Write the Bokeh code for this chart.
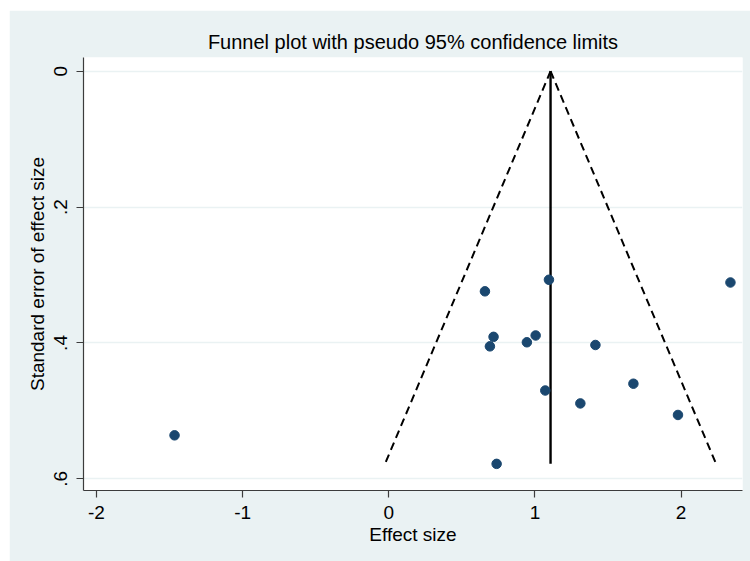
from bokeh.plotting import figure
from bokeh.models import Range1d, FixedTicker, ColumnDataSource
from bokeh.embed import file_html
from bokeh.resources import INLINE

# Study data (effect size, standard error)
effect = [0.658, 1.096, 2.338, 0.717, 0.692, 0.945, 1.005, 1.414, 1.071, 1.674, 1.311, 1.979, 0.738, -1.466]
se = [0.324, 0.307, 0.311, 0.391, 0.405, 0.399, 0.389, 0.403, 0.470, 0.460, 0.489, 0.506, 0.578, 0.536]

pooled = 1.107
se_max = 0.578
z = 1.96

x_ticks = [-2, -1, 0, 1, 2]
x_tick_labels = {-2: "-2", -1: "-1", 0: "0", 1: "1", 2: "2"}
y_ticks = [0, 0.2, 0.4, 0.6]
y_tick_labels = {0: "0", 0.2: ".2", 0.4: ".4", 0.6: ".6"}

BG = "#EAF2F3"
NAVY = "#1A476F"
FONT = "Liberation Sans"

p = figure(width=741, height=551, output_backend="svg", toolbar_location=None,
           x_range=Range1d(-2.089, 2.4205), y_range=Range1d(0.6172, -0.0202),
           min_border_left=74, min_border_right=8, min_border_top=47, min_border_bottom=71)
p.margin = (10, 0, 0, 9)
p.background_fill_color = "white"
p.border_fill_color = BG
p.outline_line_color = None

p.title.text = "Funnel plot with pseudo 95% confidence limits"
p.title.align = "center"
p.title.text_font = FONT
p.title.text_font_size = "20px"
p.title.text_font_style = "normal"
p.title.text_color = "#000000"
p.title.offset = 0

# funnel lines
left_x = [pooled, pooled - z * se_max]
right_x = [pooled, pooled + z * se_max]
p.line(left_x, [0, se_max], line_color="black", line_width=2, line_dash="8 5")
p.line(right_x, [0, se_max], line_color="black", line_width=2, line_dash="8 5")
p.line([pooled, pooled], [0, se_max], line_color="black", line_width=2.4)

src = ColumnDataSource(dict(x=effect, y=se))
p.scatter("x", "y", source=src, size=9.5, fill_color=NAVY, line_color=NAVY)

p.xgrid.visible = False
p.ygrid.ticker = FixedTicker(ticks=y_ticks)
p.ygrid.grid_line_color = BG
p.ygrid.grid_line_width = 1.5

p.xaxis.ticker = FixedTicker(ticks=x_ticks)
p.xaxis.major_label_overrides = x_tick_labels
p.yaxis.ticker = FixedTicker(ticks=y_ticks)
p.yaxis.major_label_overrides = y_tick_labels
p.yaxis.major_label_orientation = "vertical"
p.xaxis.axis_label = "Effect size"
p.yaxis.axis_label = "Standard error of effect size"

for ax in (p.xaxis[0], p.yaxis[0]):
    ax.axis_line_color = "#3C3C3C"
    ax.axis_line_width = 1.2
    ax.major_tick_line_color = "#3C3C3C"
    ax.major_tick_line_width = 1.2
    ax.major_tick_in = 0
    ax.major_tick_out = 7
    ax.minor_tick_line_color = None
    ax.major_label_text_font = FONT
    ax.major_label_text_font_size = "19px"
    ax.major_label_text_color = "#000000"
    ax.axis_label_text_font = FONT
    ax.axis_label_text_font_size = "19px"
    ax.axis_label_text_font_style = "normal"
    ax.axis_label_text_color = "#000000"

p.xaxis.major_label_standoff = 8
p.xaxis.axis_label_standoff = 2
p.yaxis.major_label_standoff = 9
p.yaxis.axis_label_standoff = 4

open("out.html", "w").write(file_html(p, INLINE))
